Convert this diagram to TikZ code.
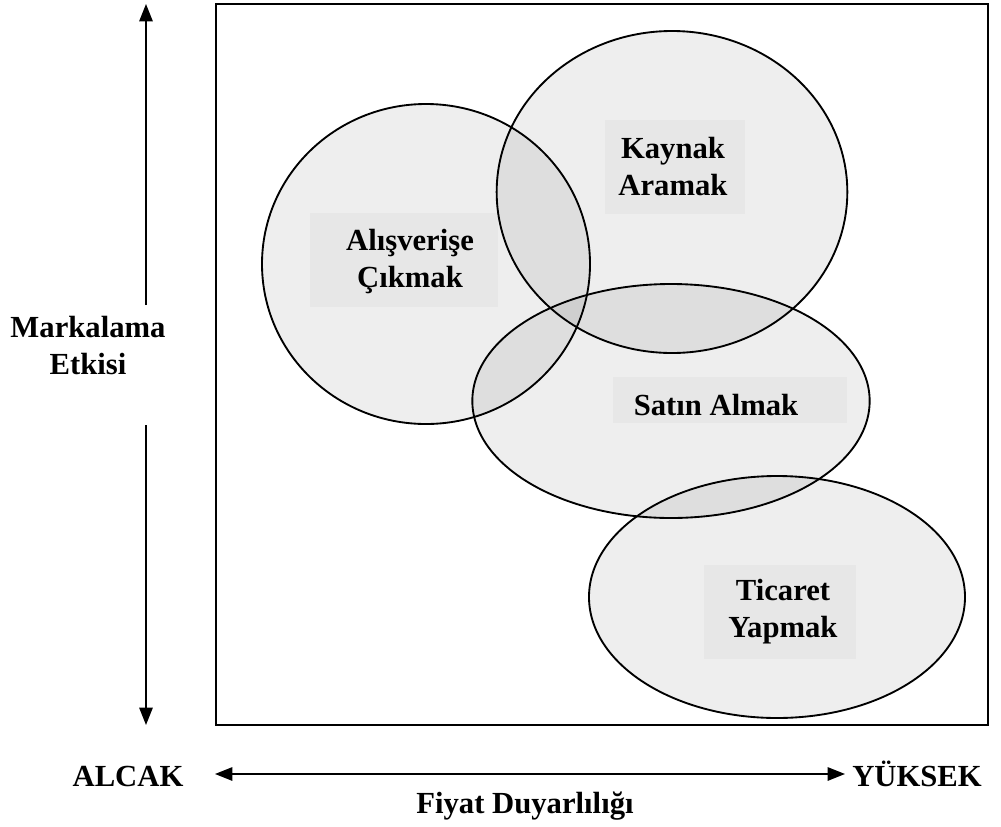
\documentclass[tikz,border=0pt]{standalone}
\usepackage{fontspec}
\setmainfont{Liberation Serif}
\usetikzlibrary{shapes.geometric,arrows.meta}
\begin{document}
\begin{tikzpicture}[x=0.75pt,y=-0.75pt,
  lbl/.style={font=\fontsize{23}{27.75}\selectfont\bfseries, align=center, inner sep=0pt},
  blob/.style={ellipse, draw=black, line width=1.4pt, fill=black, fill opacity=0.065, text opacity=1, inner sep=0pt},
  tbox/.style={fill=black, fill opacity=0.03, draw=none, inner sep=0pt},
  axis/.style={line width=1.4pt, -{Triangle[length=13pt,width=10pt]}}]
\useasboundingbox (0,0) rectangle (1001,826);
% frame
\node[draw=black, line width=1.4pt, minimum width=579pt, minimum height=540.75pt, inner sep=0pt] (frame) at (602,364.5) {};
% ellipses
\node[blob, minimum width=246pt, minimum height=240pt] (e1) at (426,264) {};
\node[blob, minimum width=263pt, minimum height=241.5pt] (e2) at (672,192) {};
\node[blob, minimum width=298pt, minimum height=175.5pt] (e3) at (671,401) {};
\node[blob, minimum width=282pt, minimum height=181.5pt] (e4) at (777,597) {};
% text boxes
\node[tbox, minimum width=141pt, minimum height=70.5pt] (b1) at (404,260) {};
\node[tbox, minimum width=105pt, minimum height=71pt] (b2) at (675,167) {};
\node[tbox, minimum width=175.5pt, minimum height=34pt] (b3) at (730,400) {};
\node[tbox, minimum width=114pt, minimum height=70pt] (b4) at (780,612) {};
% labels
\node[lbl] (t1) at (410,262) {Alışverişe\\Çıkmak};
\node[lbl] (t2) at (673,167) {Kaynak\\Aramak};
\node[lbl] (t3) at (716,405) {Satın Almak};
\node[lbl] (t4) at (783,612) {Ticaret\\Yapmak};
% vertical axis
\node[lbl] (ylab) at (88,346) {Markalama\\Etkisi};
\coordinate (vtop) at (146,4);
\coordinate (vgapA) at (146,305);
\coordinate (vgapB) at (146,425);
\coordinate (vbot) at (146,725);
\draw[axis] (vgapA) -- (vtop);
\draw[axis] (vgapB) -- (vbot);
% horizontal axis
\node[lbl, anchor=base] (lo) at (128,786) {ALCAK};
\node[lbl, anchor=base] (hi) at (917,786) {YÜKSEK};
\node[lbl, anchor=base] (xlab) at (525,813) {Fiyat Duyarlılığı};
\coordinate (hl) at (215,774);
\coordinate (hr) at (845,774);
\draw[line width=1.4pt, {Triangle[length=13pt,width=10pt]}-{Triangle[length=13pt,width=10pt]}] (hl) -- (hr);
\end{tikzpicture}
\end{document}
